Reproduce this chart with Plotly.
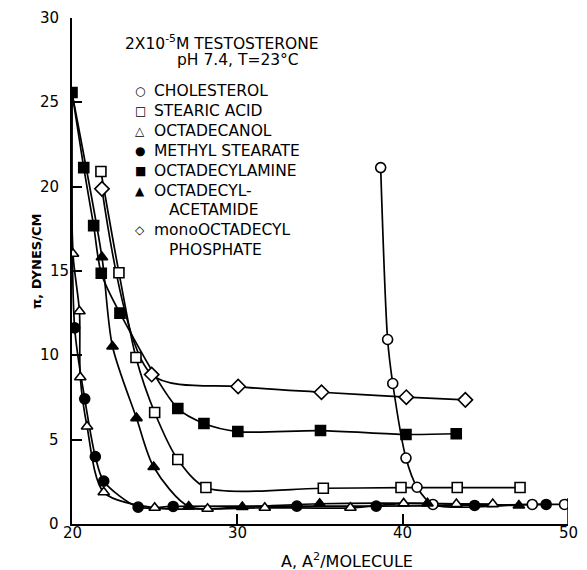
import plotly.graph_objects as go

# ---------------- data ----------------
chol_A = [38.67, 39.09, 39.40, 40.20, 40.87, 41.83, 47.84, 49.79]
chol_P = [21.13, 10.94, 8.33, 3.91, 2.18, 1.16, 1.16, 1.16]

stear_A = [21.75, 22.84, 23.87, 25.00, 26.40, 28.10, 35.20, 39.90, 43.30, 47.10]
stear_P = [20.90, 14.90, 9.87, 6.61, 3.82, 2.16, 2.12, 2.16, 2.16, 2.16]

octol_A = [20.00, 20.06, 20.45, 20.50, 20.91, 21.92, 25.00, 28.20, 31.66, 36.84, 40.06, 43.25, 45.45]
octol_P = [25.40, 16.02, 12.61, 8.70, 5.78, 1.88, 0.96, 0.90, 0.96, 0.96, 1.22, 1.18, 1.18]

mest_A = [20.00, 20.16, 20.77, 21.41, 21.92, 24.00, 26.12, 33.60, 38.40, 44.35, 48.68]
mest_P = [25.40, 11.63, 7.42, 4.00, 2.54, 1.00, 1.04, 1.06, 1.06, 1.10, 1.16]

amine_A = [20.00, 20.71, 21.31, 21.77, 22.90, 26.40, 27.98, 30.03, 35.03, 40.20, 43.24]
amine_P = [25.58, 21.13, 17.69, 14.87, 12.50, 6.85, 5.96, 5.48, 5.54, 5.31, 5.35]

acet_A = [20.05, 21.81, 22.45, 23.90, 24.94, 27.06, 30.30, 34.98, 41.50, 47.03]
acet_P = [25.30, 15.82, 10.52, 6.28, 3.38, 1.04, 1.01, 1.20, 1.22, 1.10]

phos_A = [21.81, 24.82, 30.05, 35.09, 40.22, 43.79]
phos_P = [19.87, 8.86, 8.15, 7.81, 7.52, 7.36]

series_names = ["CHOLESTEROL", "STEARIC ACID", "OCTADECANOL", "METHYL STEARATE",
                "OCTADECYLAMINE", "OCTADECYL-", "monoOCTADECYL"]
series_second_lines = [None, None, None, None, None, "ACETAMIDE", "PHOSPHATE"]
legend_glyphs = ["○", "□", "△", "●", "■", "▲", "◇"]

x_ticks = [20, 30, 40, 50]
y_ticks = [0, 5, 10, 15, 20, 25, 30]

title_lines = ["2X10<sup>-5</sup>M TESTOSTERONE", "pH 7.4, T=23°C"]
x_title = "A, A<sup>2</sup>/MOLECULE"
y_title = "π, DYNES/CM"

# ---------------- figure ----------------
FONT = "DejaVu Sans"
series = [
    (chol_A, chol_P, "circle", "white", False),
    (stear_A, stear_P, "square", "white", False),
    (octol_A, octol_P, "triangle-up", "white", True),
    (mest_A, mest_P, "circle", "black", True),
    (amine_A, amine_P, "square", "black", False),
    (acet_A, acet_P, "triangle-up", "black", True),
    (phos_A, phos_P, "diamond", "white", False),
]

fig = go.Figure()
for (xa, ya, sym, fill, hide_first) in series:
    fig.add_trace(go.Scatter(x=xa, y=ya, mode="lines",
                             line=dict(color="black", width=1.7, shape="spline", smoothing=0.8),
                             showlegend=False, hoverinfo="skip"))
for name, (xa, ya, sym, fill, hide_first) in zip(series_names, series):
    size = 10 if sym != "diamond" else 11
    sizes = [size] * len(xa)
    if hide_first:
        sizes[0] = 0
    fig.add_trace(go.Scatter(x=xa, y=ya, mode="markers", name=name, showlegend=False,
                             marker=dict(symbol=sym, size=sizes, color=fill, opacity=1,
                                         line=dict(color="black", width=1.6))))

W, H = 587, 570
ml, mr, mt, mb = 72, 19, 18, 46
pw = W - ml - mr
ph = H - mt - mb

def px_x(px):
    return (px - ml) / pw

def px_y(py):
    return 1 - (py - mt) / ph

def note(text, x, y, size=15, xanchor="center", xref="paper", yref="paper", **kw):
    return dict(text=text, x=x, y=y, xref=xref, yref=yref, showarrow=False,
                xanchor=xanchor, yanchor="middle",
                font=dict(family=FONT, size=size, color="black"), **kw)

annotations = []
annotations.append(note(title_lines[0], px_x(222), px_y(42.5), size=15.5))
annotations.append(note(title_lines[1], px_x(238), px_y(60.5), size=15.5))
annotations.append(note(x_title, px_x(347), px_y(560), size=16))
annotations.append(note("<b>" + y_title + "</b>", px_x(36), px_y(262), size=13, textangle=-90))

# legend rows (text + glyph)
row_y = 91.0
row_step = 19.9
for glyph, name, second in zip(legend_glyphs, series_names, series_second_lines):
    annotations.append(note(glyph, px_x(140), px_y(row_y), size=12))
    annotations.append(note(name, px_x(152), px_y(row_y), xanchor="left", size=15.5))
    row_y += row_step
    if second:
        annotations.append(note(second, px_x(167), px_y(row_y), xanchor="left", size=15.5))
        row_y += row_step

# tick labels
for v in y_ticks:
    right = 71 if v == 15 else 61
    annotations.append(note(str(v), px_x(right), v, xanchor="right", yref="y"))
for v in x_ticks:
    annotations.append(note(str(v), v, px_y(533), xref="x"))

fig.update_layout(
    width=W, height=H,
    margin=dict(l=ml, r=mr, t=mt, b=mb),
    paper_bgcolor="white", plot_bgcolor="white",
    showlegend=False,
    annotations=annotations,
    shapes=[dict(type="line", xref="x", yref="paper", x0=50, x1=50, y0=0, y1=26 / ph,
                 line=dict(color="black", width=1.5))],
)
fig.update_xaxes(range=[20, 50], tickvals=x_ticks, ticks="inside", ticklen=10, tickwidth=1.5,
                 tickcolor="black", showline=True, linecolor="black", linewidth=1.8,
                 showgrid=False, zeroline=False, showticklabels=False)
fig.update_yaxes(range=[0, 30], tickvals=y_ticks, ticks="inside", ticklen=10, tickwidth=1.5,
                 tickcolor="black", showline=True, linecolor="black", linewidth=1.8,
                 showgrid=False, zeroline=False, showticklabels=False)

fig.write_html("out.html")
